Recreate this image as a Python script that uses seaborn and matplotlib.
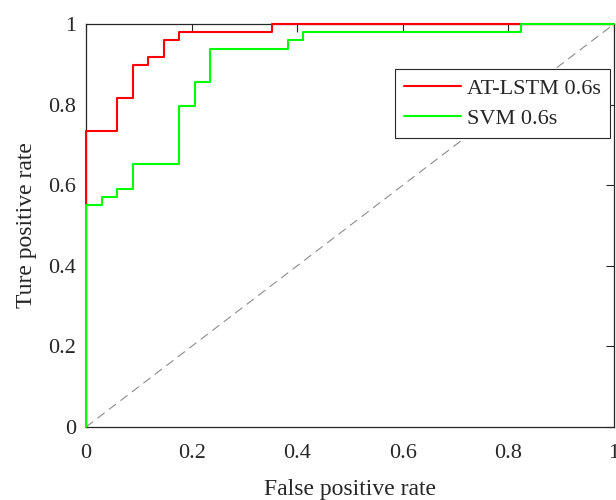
import numpy as np
import pandas as pd
import matplotlib
matplotlib.use("Agg")
import matplotlib.pyplot as plt
import seaborn as sns

# ROC step corners (steps-pre): FPR / TPR
fpr_lstm = [0.0, 0.0588, 0.0882, 0.1176, 0.1471, 0.1765, 0.3529, 1.0]
tpr_lstm = [0.0, 0.7347, 0.8163, 0.8980, 0.9184, 0.9592, 0.9796, 1.0]
fpr_svm = [0.0, 0.0294, 0.0588, 0.0882, 0.1765, 0.2059, 0.2353, 0.3824, 0.4118, 0.8235, 1.0]
tpr_svm = [0.0, 0.5510, 0.5714, 0.5918, 0.6531, 0.7959, 0.8571, 0.9388, 0.9592, 0.9796, 1.0]
labels = ["AT-LSTM 0.6s", "SVM 0.6s"]
xticks = [0, 0.2, 0.4, 0.6, 0.8, 1]
xticklabels = ["0", "0.2", "0.4", "0.6", "0.8", "1"]
chance = [0, 1]

sns.set_theme(style="white")
plt.rcParams['font.family'] = ['Liberation Serif', 'DejaVu Serif']

fig = plt.figure(figsize=(6.16, 5), dpi=100)
ax = fig.add_axes([0.1396, 0.146, 0.8572, 0.806])

sns.lineplot(x=chance, y=chance, ax=ax, color="#8c8c8c", lw=0.8,
             linestyle=(0, (8, 5)), estimator=None, sort=False)
df1 = pd.DataFrame({"fpr": fpr_lstm, "tpr": tpr_lstm})
df2 = pd.DataFrame({"fpr": fpr_svm, "tpr": tpr_svm})
sns.lineplot(data=df1, x="fpr", y="tpr", ax=ax, color="#ff0000", lw=1.5,
             drawstyle="steps-pre", estimator=None, sort=False, label=labels[0])
sns.lineplot(data=df2, x="fpr", y="tpr", ax=ax, color="#00ff00", lw=1.5,
             drawstyle="steps-pre", estimator=None, sort=False, label=labels[1])
for ln in ax.lines:
    ln.set_clip_on(False)
    ln.set_zorder(3)

ax.set_xlim(0, 1)
ax.set_ylim(0, 1)
ax.set_xticks(xticks)
ax.set_xticklabels(xticklabels)
ax.set_yticks(xticks)
ax.set_yticklabels(xticklabels)
ax.tick_params(direction="in", length=6, width=0.8, color="#262626",
               top=True, right=True, labelsize=16, labelcolor="#262626")
ax.tick_params(axis="x", pad=12)
ax.tick_params(axis="y", pad=7)
for s in ax.spines.values():
    s.set_color("#262626")
    s.set_linewidth(0.9)
    s.set_visible(True)
ax.set_xlabel("False positive rate", fontsize=17, color="#262626", labelpad=12)
ax.set_ylabel("Ture positive rate", fontsize=17, color="#262626", labelpad=8)

leg = ax.legend(loc="upper right", bbox_to_anchor=(0.992, 0.888), fontsize=16,
                frameon=True, fancybox=False, shadow=False, handlelength=2.6,
                borderpad=0.4, labelspacing=0.45, handletextpad=0.25, borderaxespad=0)
leg.get_frame().set_edgecolor("#262626")
leg.get_frame().set_linewidth(0.8)
leg.get_frame().set_alpha(1)
leg.set_zorder(5)

fig.savefig("out.png", dpi=100)
